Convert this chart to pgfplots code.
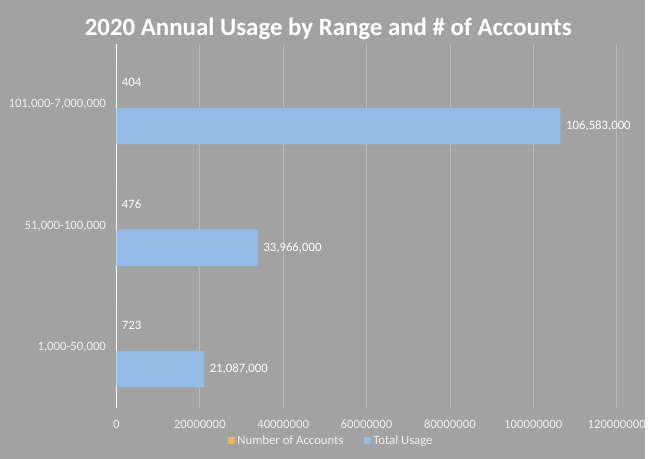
\documentclass[border=0pt]{standalone}
\usepackage{fontspec}
\setmainfont{Carlito}
\usepackage{pgfplots}
\pgfplotsset{compat=1.18}
\definecolor{bgc}{RGB}{162,162,162}
\definecolor{gridc}{RGB}{186,186,186}
\definecolor{usage}{RGB}{148,187,230}
\definecolor{accts}{RGB}{235,180,100}
\definecolor{lbl}{RGB}{240,240,240}
\begin{document}
\begin{tikzpicture}
\fill[bgc] (0,0) rectangle (649pt,461pt);
\node[font=\bfseries\fontsize{25}{28}\selectfont, text=white] at (330pt,432pt)
  {2020 Annual Usage by Range and \# of Accounts};
\begin{axis}[
  at={(117pt,51pt)}, anchor=south west,
  width=503pt, height=366pt, scale only axis,
  xbar, clip=false,
  xmin=0, xmax=120000000,
  ymin=-0.5, ymax=2.5,
  bar width=0.30,
  ytick={0,1,2},
  yticklabels={{1,000-50,000},{51,000-100,000},{101,000-7,000,000}},
  xtick={0,20000000,40000000,60000000,80000000,100000000,120000000},
  xticklabels={0,20000000,40000000,60000000,80000000,100000000,120000000},
  scaled x ticks=false,
  xmajorgrids, major grid style={gridc, line width=0.6pt},
  axis y line*=left, axis x line*=bottom,
  x axis line style={draw=none},
  y axis line style={draw=white, line width=0.8pt},
  major tick length=0pt, tick style={draw=none},
  tick label style={font=\fontsize{12.8}{15}\selectfont, text=lbl},
  yticklabel style={xshift=-7pt},
  xticklabel style={yshift=-9pt},
  nodes near coords,
  every node near coord/.append style={font=\fontsize{12.8}{15}\selectfont, text=white, anchor=west, xshift=2pt},
  legend columns=2,
  legend style={at={(0.43,-0.09)}, anchor=center, draw=none, fill=none,
    text=lbl, font=\fontsize{12.8}{15}\selectfont,
    /tikz/column 2/.style={column sep=19pt}},
  legend image code/.code={\fill[#1,draw=none] (0pt,-3.5pt) rectangle (7pt,3.5pt);},
]
\addplot[fill=accts, draw=none, bar shift=0.18, point meta=explicit symbolic]
  coordinates {(723,0) [723] (476,1) [476] (404,2) [404]};
\addplot[fill=usage, draw=none, bar shift=-0.18, point meta=explicit symbolic]
  coordinates {(21087000,0) [21,087,000] (33966000,1) [33,966,000] (106583000,2) [106,583,000]};
\legend{Number of Accounts, Total Usage}
\end{axis}
\end{tikzpicture}
\end{document}
